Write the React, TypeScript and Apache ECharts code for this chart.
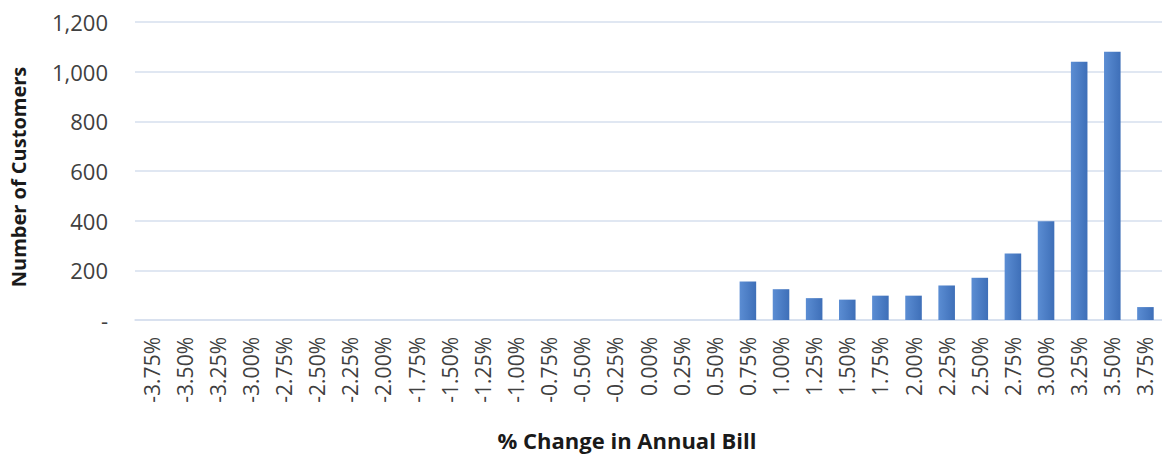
import React, { useEffect, useRef } from "react";
import * as echarts from "echarts";

const categories = [
  "-3.75%", "-3.50%", "-3.25%", "-3.00%", "-2.75%", "-2.50%", "-2.25%", "-2.00%",
  "-1.75%", "-1.50%", "-1.25%", "-1.00%", "-0.75%", "-0.50%", "-0.25%", "0.00%",
  "0.25%", "0.50%", "0.75%", "1.00%", "1.25%", "1.50%", "1.75%", "2.00%",
  "2.25%", "2.50%", "2.75%", "3.00%", "3.25%", "3.50%", "3.75%",
];

const customers = [
  0, 0, 0, 0, 0, 0, 0, 0,
  0, 0, 0, 0, 0, 0, 0, 0,
  0, 0, 155, 124, 88, 82, 98, 98,
  139, 170, 268, 398, 1040, 1080, 52,
];

const yTicks = [0, 200, 400, 600, 800, 1000, 1200];
const yTitle = "Number of Customers";
const xTitle = "% Change in Annual Bill";

export default function App() {
  const ref = useRef<HTMLDivElement>(null);
  useEffect(() => {
    if (!ref.current) return;
    const chart = echarts.init(ref.current, undefined, { renderer: "svg" });
    chart.setOption({
      animation: false,
      backgroundColor: "#ffffff",
      textStyle: { fontFamily: "Open Sans" },
      grid: { left: 135, top: 22, width: 1033, height: 298, containLabel: false },
      xAxis: {
        type: "category",
        data: categories,
        axisLine: { show: true, lineStyle: { color: "#d6dfee", width: 1.5 } },
        axisTick: { show: false },
        axisLabel: {
          rotate: 90,
          interval: 0,
          margin: 17,
          fontSize: 21,
          color: "#404040",
          fontFamily: "Open Sans",
        },
      },
      yAxis: {
        type: "value",
        min: yTicks[0],
        max: yTicks[yTicks.length - 1],
        interval: 200,
        axisLine: { show: false },
        axisTick: { show: false },
        splitLine: { lineStyle: { color: "#d6dfee", width: 1.5 } },
        axisLabel: {
          margin: 27,
          fontSize: 22,
          color: "#404040",
          fontFamily: "Open Sans",
          formatter: (v: number) => (v === 0 ? "-" : v.toLocaleString("en-US")),
        },
      },
      graphic: [
        {
          type: "text",
          x: 18,
          y: 177,
          rotation: Math.PI / 2,
          style: {
            text: yTitle,
            fontFamily: "Open Sans",
            fontWeight: "bold",
            fontSize: 20,
            fill: "#1a1a1a",
            align: "center",
            verticalAlign: "middle",
          },
        },
        {
          type: "text",
          x: 627,
          y: 440,
          style: {
            text: xTitle,
            fontFamily: "Open Sans",
            fontWeight: "bold",
            fontSize: 22,
            fill: "#1a1a1a",
            align: "center",
            verticalAlign: "middle",
          },
        },
      ],
      series: [
        {
          type: "bar",
          data: customers,
          barCategoryGap: "50%",
          itemStyle: {
            color: new echarts.graphic.LinearGradient(0, 0, 1, 0, [
              { offset: 0, color: "#5b8dd3" },
              { offset: 1, color: "#3e6fb8" },
            ]),
          },
        },
      ],
    });
    return () => chart.dispose();
  }, []);
  return (
    <div
      ref={ref}
      style={{ position: "fixed", left: 0, top: 0, width: 1162, height: 457, background: "#fff" }}
    />
  );
}
